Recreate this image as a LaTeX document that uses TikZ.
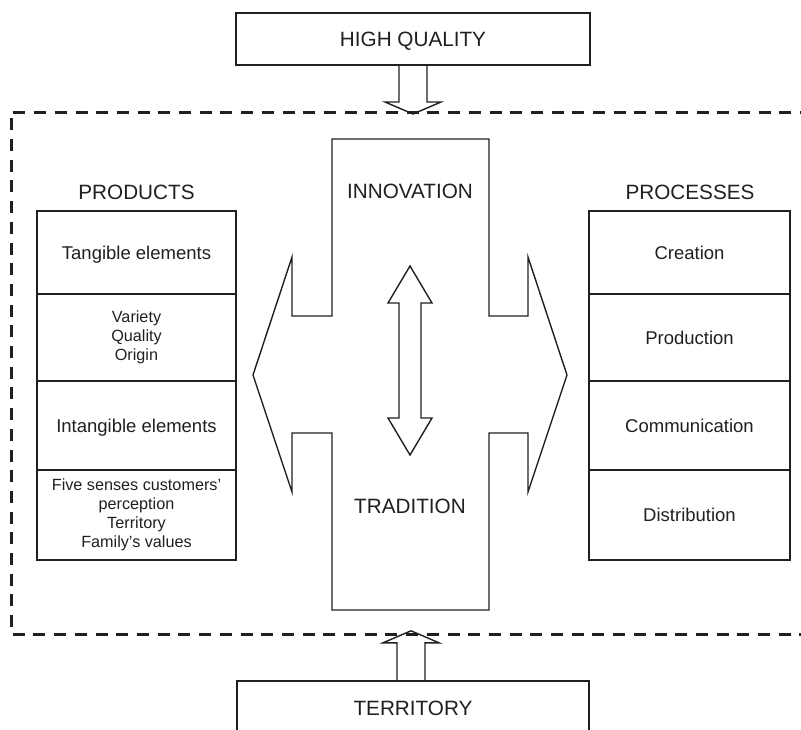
\documentclass[tikz,border=0pt]{standalone}
\usepackage{fontspec}
\setmainfont{Liberation Sans}
\usetikzlibrary{calc}
\definecolor{ink}{RGB}{35,31,32}
\begin{document}
\begin{tikzpicture}[x=1pt,y=-1pt,
  cellbox/.style={draw=ink, line width=2.3pt, inner sep=0pt, align=center, text=ink},
  bigf/.style={font=\fontsize{20.7}{24}\selectfont, text=ink, inner sep=0pt, text height=14.9pt, text depth=0pt},
  midf/.style={font=\fontsize{18.5}{22}\selectfont, text height=13.3pt, text depth=0pt},
  smallf/.style={font=\fontsize{16.2}{19}\selectfont},
  shapeline/.style={draw=ink, line width=1.4pt, line join=miter},
  frameline/.style={draw=ink, line width=3pt, dash pattern=on 12pt off 8.7pt}
]
\clip (0,0) rectangle (801,729);
\fill[white] (0,0) rectangle (801,729);

% dashed frame
\draw[frameline] (812,112) -- (11,112) -- (11,634) -- (812,634);

% top and bottom boxes
\node[cellbox, bigf, line width=2pt, minimum width=354pt, minimum height=52pt] (hq) at (413,39) {HIGH QUALITY};
\node[bigf, minimum width=352pt, minimum height=54pt] (terr) at (413,708) {TERRITORY};
\draw[ink, line width=2pt] (terr.south west) -- (terr.north west) -- (terr.north east) -- (terr.south east);

% hollow arrows
\draw[shapeline, shift={(hq.south)}] (-14,0) -- (-14,36) -- (-28,36) -- (0,48) -- (28,36) -- (14,36) -- (14,0);
\draw[shapeline, shift={($(terr.north)+(-2,0)$)}] (-14,0) -- (-14,-38) -- (-28,-38) -- (0,-50) -- (28,-38) -- (14,-38) -- (14,0);

% central cross shape
\draw[shapeline] (332,139) -- (489,139) -- (489,316) -- (528,316) -- (528,257) -- (567,375)
  -- (528,492) -- (528,433) -- (489,433) -- (489,610) -- (332,610) -- (332,433) -- (292,433)
  -- (292,492) -- (253,375) -- (292,257) -- (292,316) -- (332,316) -- cycle;
\node[bigf] (innov) at (410,191) {INNOVATION};
\node[bigf] (trad) at (410,506) {TRADITION};

% double arrow
\draw[shapeline] (410,266) -- (432,303) -- (421,303) -- (421,418) -- (432,418) -- (410,455)
  -- (388,418) -- (399,418) -- (399,303) -- (388,303) -- cycle;

% products column
\node[bigf] (prod) at (136.5,192) {PRODUCTS};
\node[cellbox, midf, minimum width=199pt, minimum height=83pt] (l1) at (136.5,252.5) {Tangible elements};
\node[cellbox, smallf, minimum width=199pt, minimum height=87pt] (l2) at (136.5,337.5) {Variety\\Quality\\Origin};
\node[cellbox, midf, minimum width=199pt, minimum height=89pt] (l3) at (136.5,425.5) {Intangible elements};
\node[cellbox, smallf, minimum width=199pt, minimum height=90pt] (l4) at (136.5,515) {Five senses customers’\\perception\\Territory\\Family’s values};

% processes column
\node[bigf] (proc) at (690,192) {PROCESSES};
\node[cellbox, midf, minimum width=201pt, minimum height=83pt] (r1) at (689.5,252.5) {Creation};
\node[cellbox, midf, minimum width=201pt, minimum height=87pt] (r2) at (689.5,337.5) {Production};
\node[cellbox, midf, minimum width=201pt, minimum height=89pt] (r3) at (689.5,425.5) {Communication};
\node[cellbox, midf, minimum width=201pt, minimum height=90pt] (r4) at (689.5,515) {Distribution};
\end{tikzpicture}
\end{document}
